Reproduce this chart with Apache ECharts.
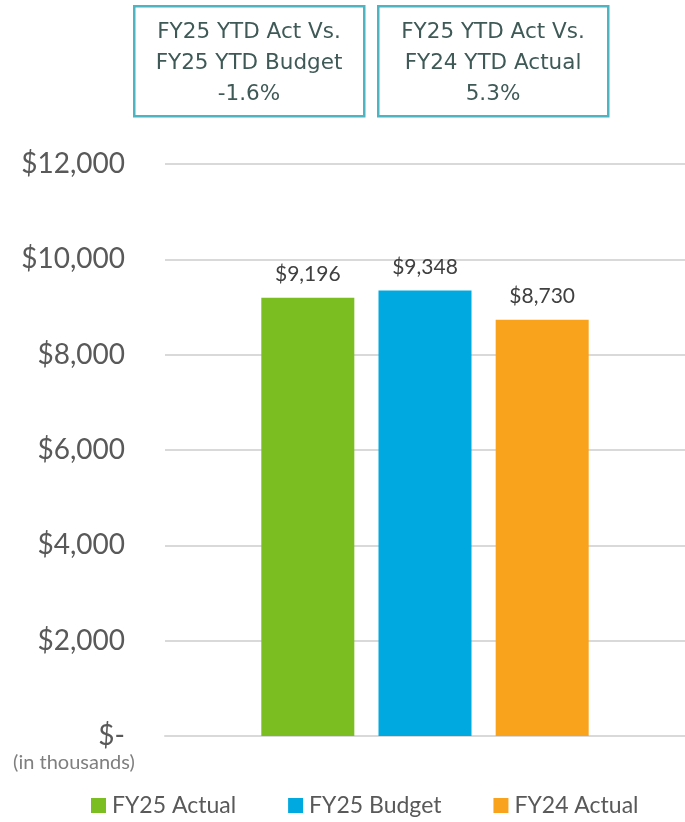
<!DOCTYPE html>
<html>
<head>
<meta charset="utf-8">
<script src="https://cdn.jsdelivr.net/npm/echarts@6/dist/echarts.min.js"></script>
<style>
  html, body { margin: 0; padding: 0; background: #fff; }
  #chart { width: 685px; height: 822px; }
</style>
</head>
<body>
<div id="chart"></div>
<script>
// data
const seriesNames = ["FY25 Actual", "FY25 Budget", "FY24 Actual"];
const seriesValues = [9196, 9348, 8730];
const seriesColors = ["#7bbe22", "#00a9e0", "#f9a21c"];
const boxTexts = [
  "FY25 YTD Act Vs.\nFY25 YTD Budget\n-1.6%",
  "FY25 YTD Act Vs.\nFY24 YTD Actual\n5.3%"
];

const chart = echarts.init(document.getElementById("chart"));

function money(v) {
  if (v === 0) return "$-";
  return "$" + v.toLocaleString("en-US");
}

// kpi boxes at the top
const graphics = [];
const boxX = [133, 377];
boxTexts.forEach((t, i) => {
  graphics.push({
    type: "rect",
    left: boxX[i],
    top: 5,
    shape: { width: 230, height: 110 },
    style: { fill: "#fff", stroke: "#4fb4c1", lineWidth: 2.5 }
  });
  graphics.push({
    type: "text",
    x: boxX[i] + 116,
    y: 63,
    style: {
      text: t,
      fill: "#3f5a56",
      font: "21.5px 'DejaVu Sans'",
      align: "center",
      verticalAlign: "middle",
      lineHeight: 31
    }
  });
});
graphics.push({
  type: "text",
  x: 74,
  y: 763,
  style: {
    text: "(in thousands)",
    fill: "#7f7f7f",
    font: "20px Lato",
    align: "center",
    verticalAlign: "middle"
  }
});

chart.setOption({
  animation: false,
  textStyle: { fontFamily: "Lato" },
  graphic: graphics,
  legend: {
    bottom: 0,
    left: 86,
    itemWidth: 15,
    itemHeight: 15,
    itemGap: 52,
    icon: "rect",
    textStyle: { color: "#595959", fontSize: 23, padding: [0, 0, 0, 1] },
    data: seriesNames
  },
  grid: { left: 165, right: 0, top: 164, bottom: 86 },
  xAxis: {
    type: "category",
    data: [""],
    axisLine: { lineStyle: { color: "#d9d9d9", width: 2 } },
    axisTick: { show: false },
    axisLabel: { show: false }
  },
  yAxis: {
    type: "value",
    min: 0,
    max: 12000,
    interval: 2000,
    axisLine: { show: false },
    axisTick: { show: false },
    axisLabel: {
      color: "#595959",
      fontSize: 28,
      margin: 40,
      formatter: money
    },
    splitLine: { lineStyle: { color: "#d9d9d9", width: 2 } }
  },
  series: seriesNames.map((name, i) => ({
    name: name,
    type: "bar",
    data: [seriesValues[i]],
    barWidth: 93,
    barGap: "26%",
    itemStyle: { color: seriesColors[i] },
    label: {
      show: true,
      position: "top",
      distance: 13,
      color: "#404040",
      fontSize: 21,
      formatter: p => money(p.value)
    }
  }))
});
</script>
</body>
</html>
